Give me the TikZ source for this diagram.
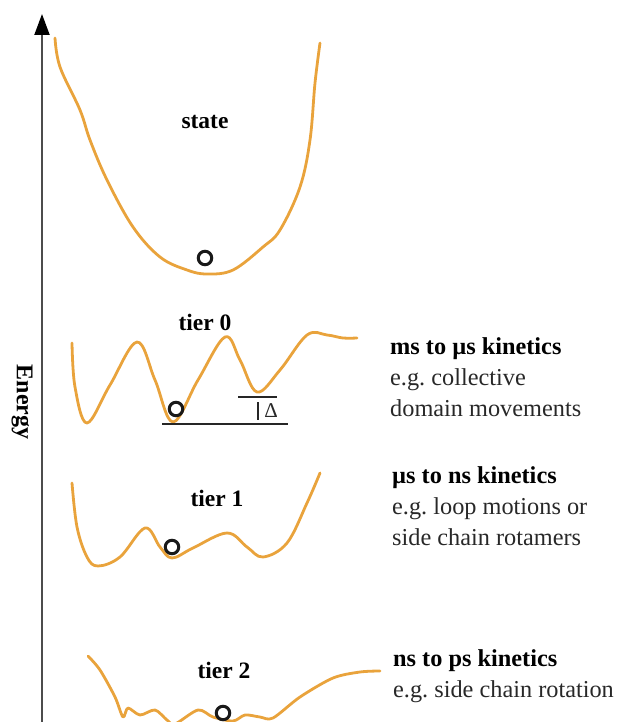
\documentclass[tikz,border=0pt]{standalone}
\usepackage{fontspec}
\setmainfont{Liberation Serif}
\usetikzlibrary{arrows.meta}
\definecolor{curve}{RGB}{233,163,60}
\definecolor{txt}{RGB}{40,40,40}
\frenchspacing
\begin{document}
\begin{tikzpicture}[x=1pt,y=-1pt,
  land/.style={draw=curve,line width=2.8pt,line cap=round,line join=round},
  ball/.style={circle,draw=black!90,line width=3pt,minimum size=13.5pt,inner sep=0pt},
  lbl/.style={font=\fontsize{23.5}{27}\selectfont\bfseries,text=black},
  desc/.style={anchor=west,align=left,inner sep=0pt,font=\fontsize{24.3}{31}\selectfont,text=txt},
  ref/.style={draw=black!85,line width=1.6pt}]
\useasboundingbox (0,0) rectangle (617,722);
% axis
\coordinate (ax0) at (42,722);
\coordinate (ax1) at (42,14);
\draw[draw=black!70,line width=2pt,-{Triangle[length=21pt,width=15pt,color=black]}] (ax0) -- (ax1);
\node[rotate=-90,font=\fontsize{24}{28}\selectfont\bfseries] (energy) at (22,402) {Energy};
% state
\draw[land] plot[smooth,tension=0.6] coordinates {(55,38) (60,67) (80,110) (90,140) (107,180) (133,227) (160,257) (187,270) (207,274) (233,270) (263,247) (280,230) (300,187) (310,140) (315,83) (320,43)};
\node[ball] (b0) at (205,258) {};
\node[lbl] (state) at (205,122) {state};
% tier 0
\draw[land] plot[smooth,tension=0.6] coordinates {(72,343) (75,387) (87,423) (110,385) (137,342) (155,380) (173,422) (198,380) (225,337) (240,360) (257,392) (280,370) (307,335) (327,335) (343,338) (357,338)};
\node[ball] (b1) at (176,409) {};
\node[lbl] (t0) at (205,322) {tier 0};
\coordinate (l0a) at (162,424); \coordinate (l0b) at (288,424);
\coordinate (l1a) at (238,397); \coordinate (l1b) at (277,397);
\coordinate (tk0) at (258,402); \coordinate (tk1) at (258,420);
\draw[ref] (l0a) -- (l0b);
\draw[ref] (l1a) -- (l1b);
\draw[ref,line width=1.2pt] (tk0) -- (tk1);
\node[font=\fontsize{21}{24}\selectfont,text=txt] (delta) at (271,411) {Δ};
% tier 1
\draw[land] plot[smooth,tension=0.6] coordinates {(72,483) (77,527) (87,557) (98,566) (120,557) (145,528) (160,547) (172,558) (193,548) (227,533) (247,547) (263,557) (287,543) (307,503) (320,473)};
\node[ball] (b2) at (172,547) {};
\node[lbl] (t1) at (217,498) {tier 1};
% tier 2
\draw[land] plot[smooth,tension=0.5] coordinates {(88,656) (100,670) (115,697) (123,717) (128,708) (140,715) (155,710) (167,720) (175,724) (198,710) (213,717) (233,721) (245,715) (260,717) (273,718) (300,697) (333,678) (360,672) (380,671)};
\node[ball] (b3) at (223,713) {};
\node[lbl] (t2) at (224,670) {tier 2};
% descriptions
\node[desc] (d0) at (390,377) {\textbf{\color{black}ms to µs kinetics}\\e.g. collective\\domain movements};
\node[desc] (d1) at (392,506) {\textbf{\color{black}µs to ns kinetics}\\e.g. loop motions or\\side chain rotamers};
\node[desc] (d2) at (393,676) {\textbf{\color{black}ns to ps kinetics}\\e.g. side chain rotation};
\end{tikzpicture}
\end{document}
